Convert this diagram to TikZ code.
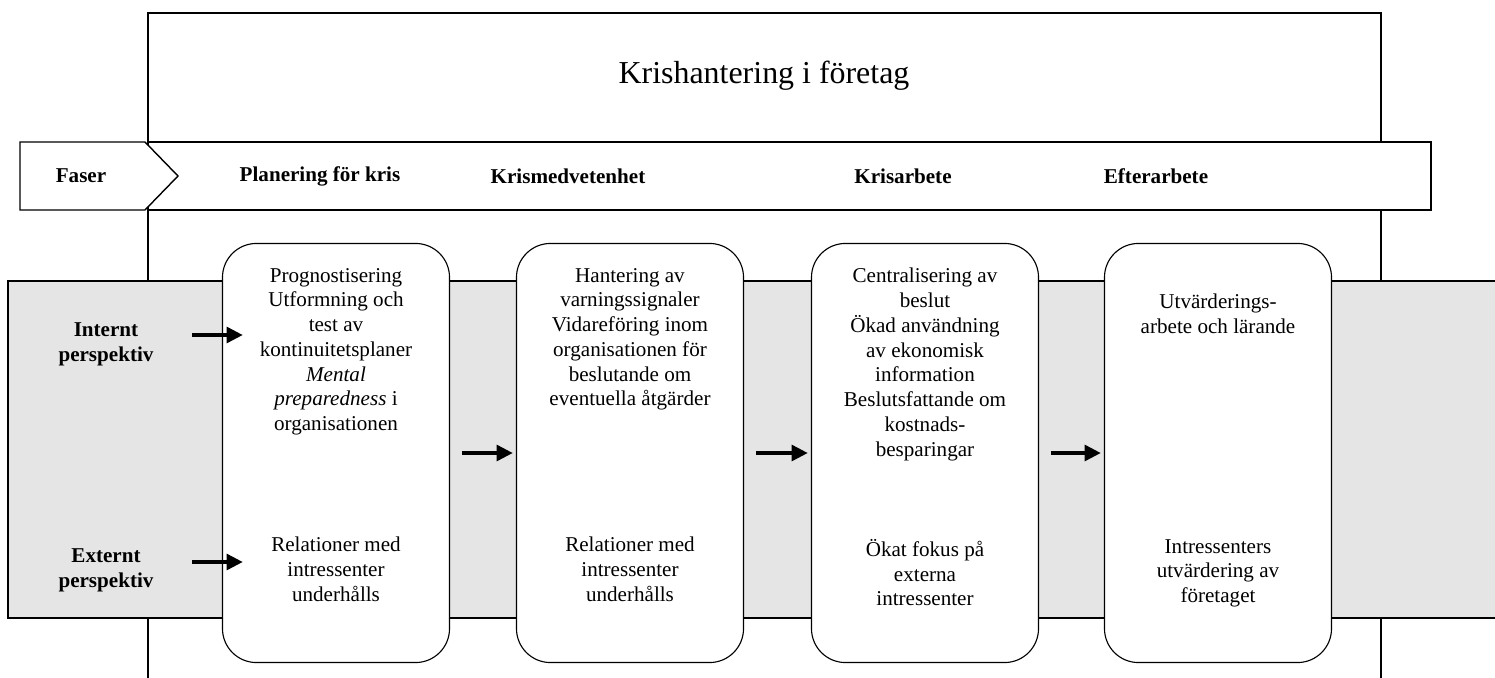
\documentclass[tikz,border=0pt]{standalone}
\usepackage{fontspec}
\setmainfont{Liberation Serif}
\usetikzlibrary{arrows.meta,positioning}
\definecolor{bandGray}{HTML}{E5E5E5}

\begin{document}
\begin{tikzpicture}[
  x=0.025cm,y=-0.025cm,
  >={Triangle[length=11.5pt,width=11pt]},
  frame/.style={line width=1.5pt},
  band/.style={draw,line width=1pt,fill=white},
  phase/.style={draw,line width=0.8pt,fill=white,rounded corners=0.85cm,minimum width=5.675cm,minimum height=10.475cm,inner sep=0pt},
  phasetext/.style={anchor=north,align=center,inner sep=0pt,font=\fontsize{15}{17.6}\selectfont},
  head/.style={font=\fontsize{15}{17.6}\selectfont\bfseries,align=center,inner sep=0pt},
  flow/.style={->,line width=2.8pt}
]
\useasboundingbox (0,0) rectangle (1495,678);

% ram och rubrik
\draw[frame] (148,678) -- (148,13) -- (1381,13) -- (1381,678);
\node[font=\fontsize{22.7}{27}\selectfont] (title) at (764,76) {Krishantering i företag};

% fasbandet
\draw[band] (148,142) rectangle (1431,210);
\draw[band] (20,142) -- (145,142) -- (178,176) -- (145,210) -- (20,210) -- cycle;
\node[head] (faser) at (81,176) {Faser};
\node[head] (hPlan) at (320,176) {Planering för kris};
\node[head] (hAware) at (568,176) {Krismedvetenhet};
\node[head] (hWork) at (903,176) {Krisarbete};
\node[head] (hAfter) at (1156,176) {Efterarbete};

% perspektivbandet
\fill[bandGray] (8,281) rectangle (1495,618);
\draw[line width=1pt] (1495,281) -- (8,281) -- (8,618) -- (1495,618);
\node[head] (intern) at (106,344) {Internt\\perspektiv};
\node[head] (extern) at (106,570) {Externt\\perspektiv};

% faserna
\node[phase] (plan) at (336,453) {};
\node[phase] (aware) at (630,453) {};
\node[phase] (work) at (925,453) {};
\node[phase] (after) at (1218,453) {};

\node[phasetext,below=0.625cm of plan.north] (planIn) {Prognostisering\\Utformning och\\test av\\kontinuitetsplaner\\\textit{Mental}\\\textit{preparedness} i\\organisationen};
\node[phasetext,below=7.35cm of plan.north] (planEx) {Relationer med\\intressenter\\underhålls};

\node[phasetext,below=0.625cm of aware.north] (awareIn) {Hantering av\\varningssignaler\\Vidareföring inom\\organisationen för\\beslutande om\\eventuella åtgärder};
\node[phasetext,below=7.35cm of aware.north] (awareEx) {Relationer med\\intressenter\\underhålls};

\node[phasetext,below=0.625cm of work.north] (workIn) {Centralisering av\\beslut\\Ökad användning\\av ekonomisk\\information\\Beslutsfattande om\\kostnads-\\besparingar};
\node[phasetext,below=7.4cm of work.north] (workEx) {Ökat fokus på\\externa\\intressenter};

\node[phasetext,below=1.275cm of after.north] (afterIn) {Utvärderings-\\arbete och lärande};
\node[phasetext,below=7.4cm of after.north] (afterEx) {Intressenters\\utvärdering av\\företaget};

% pilar
\coordinate (inStart) at (192,335);
\coordinate (exStart) at (192,562);
\draw[flow] (inStart) -- ([xshift=0.525cm]inStart -| plan.west);
\draw[flow] (exStart) -- ([xshift=0.525cm]exStart -| plan.west);
\draw[flow] ([xshift=0.3cm]plan.east) -- ([xshift=-0.075cm]aware.west);
\draw[flow] ([xshift=0.3cm]aware.east) -- ([xshift=-0.075cm]work.west);
\draw[flow] ([xshift=0.3cm]work.east) -- ([xshift=-0.075cm]after.west);
\end{tikzpicture}
\end{document}
